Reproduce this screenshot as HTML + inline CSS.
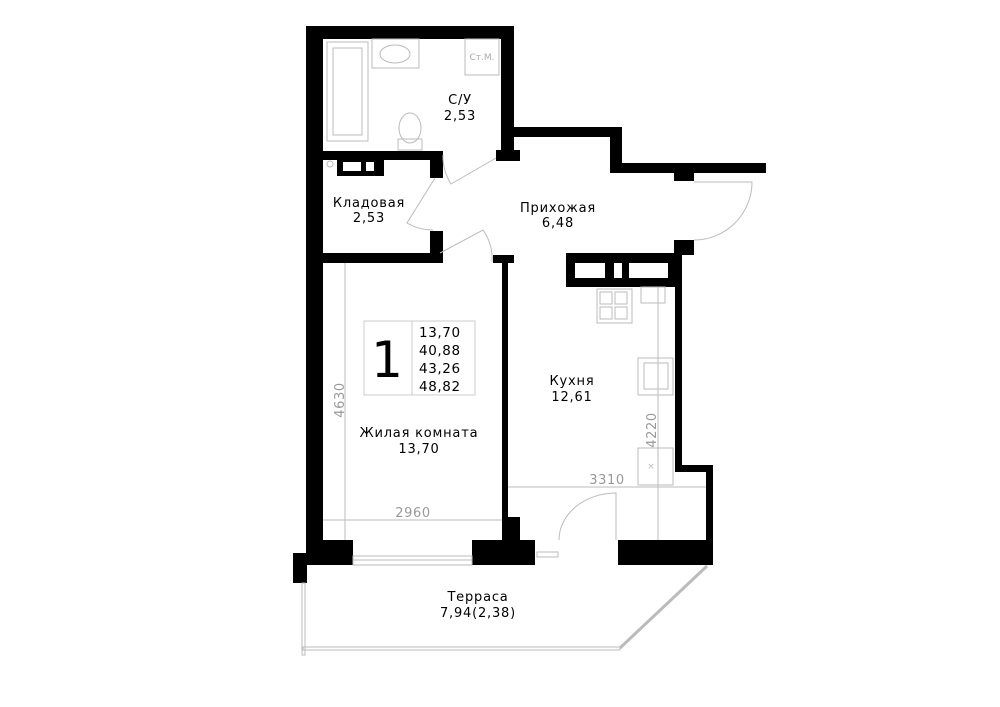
<!DOCTYPE html>
<html><head><meta charset="utf-8"><style>
html,body{margin:0;padding:0;background:#fff;}
svg{display:block;}
text{font-family:"DejaVu Sans","Liberation Sans",sans-serif;}
</style></head><body>
<svg width="1000" height="707" viewBox="0 0 1000 707" xmlns="http://www.w3.org/2000/svg">
<rect width="1000" height="707" fill="#fff"/>
<g fill="#000">
<rect x="306" y="26" width="17" height="528"/>
<rect x="306" y="26" width="208" height="13"/>
<rect x="501" y="26" width="13" height="130"/>
<rect x="496" y="150" width="24" height="11"/>
<rect x="514" y="127" width="108" height="10"/>
<rect x="610" y="127" width="12" height="46"/>
<rect x="610" y="163" width="156" height="10"/>
<rect x="674" y="173" width="20" height="8"/>
<rect x="674" y="240" width="20" height="15"/>
<rect x="323" y="151" width="120" height="9"/>
<rect x="337" y="160" width="47" height="16"/>
<rect x="430" y="151" width="13" height="27"/>
<rect x="430" y="231" width="13" height="32"/>
<rect x="323" y="253" width="120" height="10"/>
<rect x="493" y="255" width="21" height="8"/>
<rect x="502" y="255" width="6" height="290"/>
<rect x="502" y="517" width="18" height="30"/>
<rect x="306" y="540" width="47" height="25"/>
<rect x="293" y="553" width="14" height="30"/>
<rect x="472" y="540" width="63" height="25"/>
<rect x="618" y="540" width="94" height="25"/>
<polygon points="700,565 712,565 712,553"/>
<rect x="566" y="253" width="116" height="34"/>
<rect x="675" y="253" width="7" height="219"/>
<rect x="675" y="465" width="38" height="7"/>
<rect x="706" y="465" width="7" height="100"/>
</g>
<g fill="#fff">
<rect x="343" y="162" width="18" height="9"/><rect x="366" y="162" width="8" height="9"/>
<rect x="575" y="263" width="30" height="15"/><rect x="614" y="263" width="8" height="15"/><rect x="629" y="263" width="39" height="15"/>
</g>
<g fill="none" stroke="#bbb" stroke-width="1">
<rect x="327" y="42" width="41" height="99"/><rect x="333" y="48" width="29" height="87"/>
<rect x="372" y="39" width="47" height="29"/><ellipse cx="395" cy="54" rx="15" ry="9"/>
<rect x="465" y="39" width="34" height="36"/>
<ellipse cx="410" cy="128" rx="11" ry="15"/><rect x="398" y="139" width="24" height="11"/>
<circle cx="330" cy="164" r="3"/>
<path d="M496,158 L451,184 A52,52 0 0 1 443,155"/>
<path d="M435,178 L407,223 A52,52 0 0 0 433,230"/>
<path d="M440,253 L483,230 A50,50 0 0 1 492,262"/>
<path d="M694,182 L752,182 A58,58 0 0 1 694,240"/>
<path d="M616,540 L616,493 A57,47 0 0 0 559,540"/>
<rect x="537" y="552" width="21" height="5"/>
<rect x="353" y="556" width="119" height="9"/><line x1="353" y1="560" x2="472" y2="560"/>
<rect x="597" y="289" width="35" height="34"/>
<rect x="600" y="292" width="12" height="12"/><rect x="615" y="292" width="12" height="12"/>
<rect x="600" y="307" width="12" height="12"/><rect x="615" y="307" width="12" height="12"/>
<rect x="641" y="287" width="24" height="16"/>
<rect x="638" y="358" width="35" height="37"/><rect x="644" y="363" width="24" height="26"/>
<rect x="638" y="448" width="35" height="37"/>
<rect x="302" y="583" width="3" height="72"/>
<rect x="303" y="647" width="317" height="3"/>
<line x1="620" y1="648" x2="707" y2="566" stroke-width="3"/>
<rect x="364" y="321" width="111" height="74" stroke="#ccc"/>
<line x1="412" y1="321" x2="412" y2="395" stroke="#ccc"/>
<line x1="345" y1="263" x2="345" y2="540"/>
<line x1="323" y1="520" x2="502" y2="520"/>
<line x1="508" y1="487" x2="706" y2="487"/>
<line x1="658" y1="287" x2="658" y2="540"/>
</g>
<text x="651" y="469" font-size="9" fill="#bbb" text-anchor="middle">×</text>
<text x="482" y="60" font-size="9" fill="#aaa" text-anchor="middle">Ст.М.</text>
<g font-size="13" fill="#000" text-anchor="middle" letter-spacing="0.8">
<text x="460" y="104">С/У</text><text x="460" y="120">2,53</text>
<text x="369" y="207">Кладовая</text><text x="369" y="222">2,53</text>
<text x="558" y="212">Прихожая</text><text x="558" y="227">6,48</text>
<text x="572" y="385">Кухня</text><text x="572" y="401">12,61</text>
<text x="419" y="437">Жилая комната</text><text x="419" y="453">13,70</text>
<text x="478" y="601">Терраса</text><text x="478" y="617">7,94(2,38)</text>
</g>
<text x="387" y="377" font-size="50" text-anchor="middle" fill="#000">1</text>
<g font-size="13.5" fill="#000" letter-spacing="0.6">
<text x="419" y="337">13,70</text><text x="419" y="355">40,88</text><text x="419" y="373">43,26</text><text x="419" y="391">48,82</text>
</g>
<g font-size="13" fill="#999" text-anchor="middle" letter-spacing="0.6">
<text x="413" y="517">2960</text>
<text x="607" y="484">3310</text>
<text transform="translate(344,400) rotate(-90)">4630</text>
<text transform="translate(656,430) rotate(-90)">4220</text>
</g>
</svg>
</body></html>
